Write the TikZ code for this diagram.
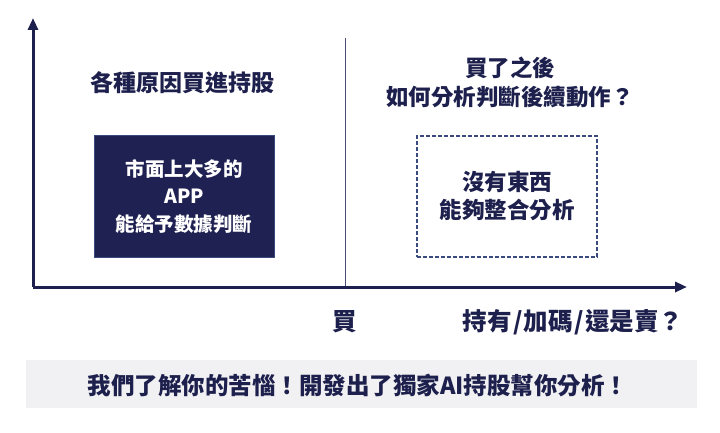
\documentclass[tikz,border=0pt]{standalone}
\usepackage{fontspec}
\setmainfont{Noto Sans CJK TC}
\usetikzlibrary{arrows.meta}
\definecolor{navy}{HTML}{1D1F4C}
\definecolor{boxfill}{HTML}{1F2152}
\definecolor{boxedge}{HTML}{3A4A7E}
\definecolor{divider}{HTML}{4A4E70}
\definecolor{band}{HTML}{F1F1F3}
\tikzset{
  axis/.style={draw=navy,line width=3pt,-{Triangle[length=12pt,width=10pt]}},
  lbl/.style={text=navy,font=\bfseries\fontsize{22.5}{29}\selectfont,align=center},
  darkbox/.style={fill=boxfill,draw=boxedge,line width=1pt,minimum width=180pt,minimum height=121pt,text=white,align=center,font=\bfseries\fontsize{19.5}{27.5}\selectfont},
  dashbox/.style={draw=boxedge,dash pattern=on 4pt off 2pt,line width=1.2pt,minimum width=180pt,minimum height=121pt,text=navy,align=center,font=\bfseries\fontsize{22.5}{28}\selectfont},
  axlbl/.style={text=navy,font=\bfseries\fontsize{24.5}{28}\selectfont},
}
\begin{document}
\begin{tikzpicture}[x=1pt,y=-1pt]
\useasboundingbox (0,0) rectangle (720,433);
\fill[white] (0,0) rectangle (720,433);
\coordinate (o) at (33,287);
\coordinate (ytip) at (33,18);
\coordinate (xtip) at (687,287);
\coordinate (dtop) at (345,38);
\coordinate (dbot) at (345,287);
\draw[divider,line width=0.8pt] (dtop) -- (dbot);
\draw[axis] (o) -- (ytip);
\draw[axis] (o) -- (xtip);
\node[lbl,font=\bfseries\fontsize{23}{29}\selectfont] (lt) at (182,83) {各種原因買進持股};
\node[lbl] (rt) at (510,82) {買了之後\\如何分析判斷後續動作？};
\node[darkbox] (db) at (184,196.5) {市面上大多的\\APP\\能給予數據判斷};
\node[dashbox] (sb) at (507,196.5) {沒有東西\\能夠整合分析};
\node[axlbl] (buy) at (345,322) {買};
\node[axlbl,anchor=west] (hold) at (459,322) {持有\kern1.5pt/\kern1.5pt加碼\kern1.5pt/\kern1.5pt還是賣？};
\fill[band] (26,360) rectangle (697,408);
\node[text=navy,font=\bfseries\fontsize{23.5}{28}\selectfont] (msg) at (358,386) {我們了解你的苦惱！開發出了獨家AI持股幫你分析！};
\end{tikzpicture}
\end{document}
